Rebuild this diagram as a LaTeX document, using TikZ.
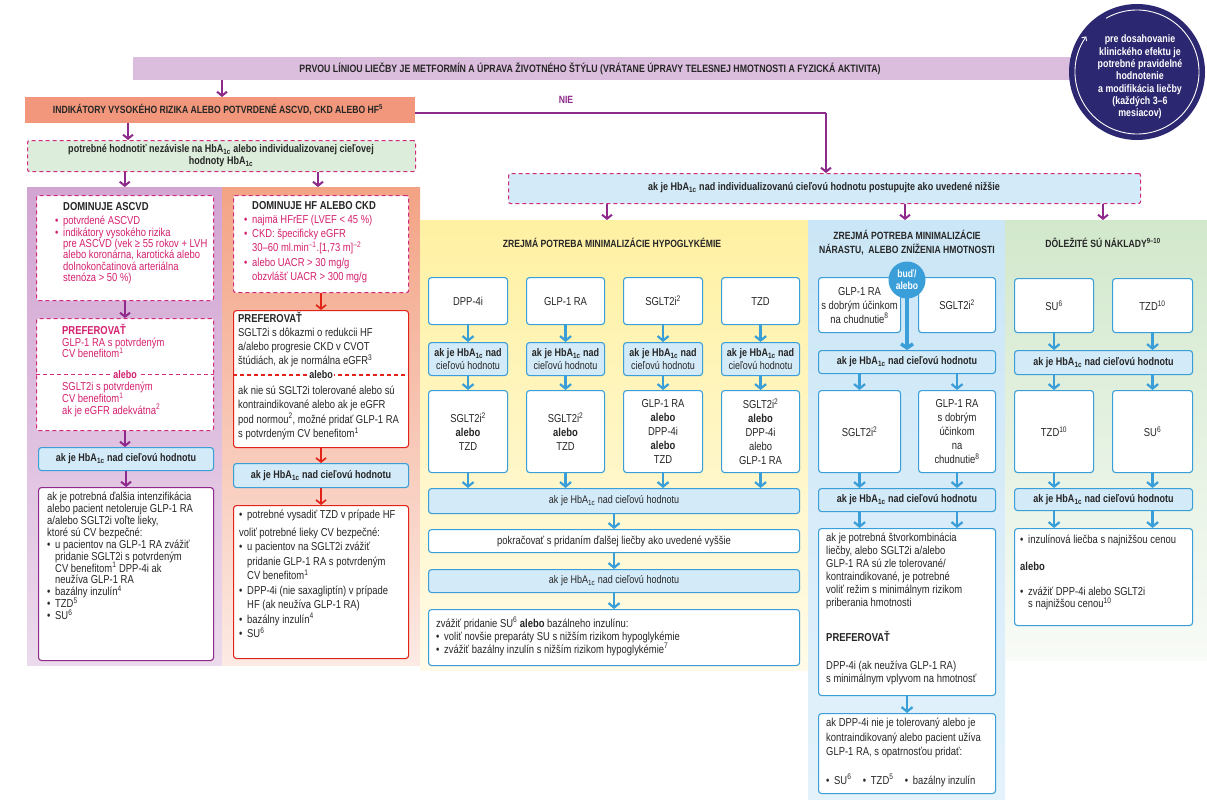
\documentclass[tikz,border=0pt]{standalone}
\usepackage{fontspec}
\setmainfont{Liberation Sans}[FakeStretch=0.82]
\usetikzlibrary{arrows.meta}
\definecolor{purp}{HTML}{8E2A8C}
\definecolor{mag}{HTML}{D02A7A}
\definecolor{magtxt}{HTML}{D4206E}
\definecolor{txt}{HTML}{262626}
\definecolor{bblue}{HTML}{3A9ED8}
\definecolor{lblue}{HTML}{D3EAF8}
\definecolor{rred}{HTML}{E2231A}
\definecolor{navy}{HTML}{2C2771}
\definecolor{topbar}{HTML}{DBBEDD}
\definecolor{orbar}{HTML}{F2977B}
\definecolor{lgreen}{HTML}{DCEEDB}
\definecolor{pAa}{HTML}{D2A4D2}
\definecolor{pAb}{HTML}{EBDAEC}
\definecolor{pBa}{HTML}{F3A385}
\definecolor{pBb}{HTML}{FCEAE4}
\definecolor{pYa}{HTML}{FFF1A2}
\definecolor{pYb}{HTML}{FFFBE8}
\definecolor{pWa}{HTML}{CBE6F6}
\definecolor{pWb}{HTML}{E4F2FB}
\definecolor{pCa}{HTML}{D2E8CC}
\definecolor{pCb}{HTML}{F8FBF7}
\newcommand{\hba}{HbA\textsubscript{1c}}
\newcommand{\sups}[1]{\textsuperscript{#1}}
\newcommand{\bul}{\makebox[8pt][l]{\textbullet}}
\newcommand{\ind}{\hspace*{8pt}}
\newcommand{\fs}[2]{\fontsize{#1}{#2}\selectfont\lineskiplimit=-20pt}
\newcommand{\mybox}[7]{\node[#2, anchor=north west, inner sep=0pt, minimum width={#5pt-#3pt}, minimum height={#6pt-#4pt}] (#1) at (#3,#4) {#7};}
\tikzset{
 panel/.style={draw=none},
 bx/.style={font=\fs{11.5}{14}, text=txt, align=center, line width=1.1pt, rounded corners=3pt},
 wbox/.style={bx, draw=bblue, fill=white},
 hbox/.style={bx, draw=bblue, fill=lblue, font=\fs{11}{13}},
 dbox/.style={bx, draw=mag, fill=white, dash pattern=on 4pt off 3pt, rounded corners=2pt},
 pbox/.style={bx, draw=purp, fill=white},
 rbox/.style={bx, draw=rred, fill=white},
 parr/.style={draw=purp, line width=2pt, -{Straight Barb[length=4pt,width=10pt]}},
 barr/.style={draw=bblue, line width=2.2pt, -{Straight Barb[length=4.5pt,width=11pt]}},
 rarr/.style={draw=rred, line width=1.7pt, -{Straight Barb[length=4pt,width=10pt]}},
 body/.style={font=\fs{11.5}{11.7}, text=txt, align=left, inner sep=0pt, anchor=north west},
 bld/.style={font=\bfseries\fs{11}{12}, text=txt, align=center, inner sep=0pt},
 ttl/.style={font=\bfseries\fs{10.5}{14}, text=txt, align=center, inner sep=0pt},
}
\begin{document}
\begin{tikzpicture}[x=1pt,y=-1pt]
\useasboundingbox (0,0) rectangle (1207,800);
\fill[white] (0,0) rectangle (1207,800);
% panels
\mybox{pA}{panel, top color=pAa, bottom color=pAb}{27}{187}{222}{665}{}
\mybox{pB}{panel, top color=pBa, bottom color=pBb}{222}{187}{420}{665}{}
\mybox{pY}{panel, top color=pYa, bottom color=pYb}{420}{220}{808}{670}{}
\mybox{pW}{panel, top color=pWa, bottom color=pWb}{808}{220}{1005}{800}{}
\mybox{pC}{panel, top color=pCa, bottom color=pCb}{1005}{220}{1207}{660}{}
% top bar and circle
\mybox{top}{fill=topbar}{133}{57}{1090}{80}{}
\node[ttl, font=\bfseries\fs{10.7}{11}] (toptxt) at (590,68.5) {PRVOU LÍNIOU LIEČBY JE METFORMÍN A ÚPRAVA ŽIVOTNÉHO ŠTÝLU (VRÁTANE ÚPRAVY TELESNEJ HMOTNOSTI A FYZICKÁ AKTIVITA)};
\node[circle, fill=navy, minimum size=136pt, inner sep=0pt] (circ) at (1137,72) {};
\draw[white, line width=0.9pt, -{Straight Barb[length=3pt,width=6pt]}] (circ.center) ++(-120:62) arc[start angle=-120, end angle=215, radius=62];
\node[font=\bfseries\fs{10.8}{12.3}, text=white, align=center, inner sep=0pt] (circtxt) at (1140,77) {pre dosahovanie\\klinického efektu je\\potrebné pravidelné\\hodnotenie\\a modifikácia liečby\\(každých 3–6\\mesiacov)};
% orange bar
\mybox{ora}{fill=orbar}{25}{97}{415}{123}{}
\node[ttl, font=\bfseries\fs{10.5}{11}] (oratxt) at (218,110) {INDIKÁTORY VYSOKÉHO RIZIKA ALEBO POTVRDENÉ ASCVD, CKD ALEBO HF\sups{5}};
\node[ttl, text=purp, font=\bfseries\fs{10.5}{11}] (nie) at (566,100) {NIE};
% green dashed
\mybox{grn}{dbox, fill=lgreen}{27}{140}{415}{171}{}
\node[bld] (grntxt) at (221,155.5) {potrebné hodnotiť nezávisle na \hba{} alebo individualizovanej cieľovej\\hodnoty \hba};
% blue dashed
\mybox{dsh}{dbox, fill=lblue}{508}{173}{1140}{203}{}
\node[bld] (dshtxt) at (824,188) {ak je \hba{} nad individualizovanú cieľovú hodnotu postupujte ako uvedené nižšie};
% coordinates
\coordinate (xA) at (222,0);
\coordinate (xB) at (128,0);
\coordinate (nie0) at (415,113);
\coordinate (nie1) at (826,113);
\coordinate (xY) at (607,0);
\coordinate (xW) at (905,0);
\coordinate (xC) at (1103,0);
\coordinate (xH) at (318,0);
\draw[parr] (top.south -| xA) -- (ora.north -| xA);
\draw[parr] (ora.south -| xB) -- (grn.north -| xB);
\draw[parr, -] (ora.east |- nie0) -- (nie1);
\draw[parr] (nie1) -- (nie1 |- dsh.north);
\draw[parr] (grn.south -| pA.north) -- (pA.north);
\draw[parr] (grn.south -| xH) -- (pB.north -| xH);
\draw[parr] (dsh.south -| xY) -- (pY.north -| xY);
\draw[parr] (dsh.south -| xW) -- (pW.north -| xW);
\draw[parr] (dsh.south -| xC) -- (pC.north -| xC);
% ===== left column
\mybox{asc}{dbox}{36}{195}{213}{300}{}
\node[body, text=magtxt, font=\fs{11.5}{11.4}] (asctxt) at (55,202) {\ind\textcolor{txt}{\bfseries DOMINUJE ASCVD}\\[3pt]\bul potvrdené ASCVD\\\bul indikátory vysokého rizika\\\ind pre ASCVD (vek ≥ 55 rokov + LVH\\\ind alebo koronárna, karotická alebo\\\ind dolnokončatinová arteriálna\\\ind stenóza > 50 \%)};
\mybox{apref}{dbox}{36}{318}{213}{430}{}
\draw[mag, line width=1.1pt, dash pattern=on 4pt off 3pt] (apref.west) -- (apref.east);
\node[bld, fill=white, inner sep=1.5pt, text=magtxt] (aal) at (apref.center) {alebo};
\node[body, text=magtxt, font=\fs{11.5}{11.5}] (apt1) at (62,324) {{\bfseries PREFEROVAŤ}\\GLP-1 RA s potvrdeným\\CV benefitom\sups{1}};
\node[body, text=magtxt, font=\fs{11.5}{11.8}] (apt2) at (62,382) {SGLT2i s potvrdeným\\CV benefitom\sups{1}\\ak je eGFR adekvátna\sups{2}};
\mybox{ahb}{hbox}{38}{447}{213}{470}{\bfseries ak je \hba{} nad cieľovú hodnotu}
\mybox{abot}{pbox}{38}{487}{213}{660}{}
\node[body, font=\fs{11.5}{11.9}] (abtxt) at (47,492) {ak je potrebná ďalšia intenzifikácia\\alebo pacient netoleruje GLP-1 RA\\a/alebo SGLT2i voľte lieky,\\ktoré sú CV bezpečné:\\\bul u pacientov na GLP-1 RA zvážiť\\\ind pridanie SGLT2i s potvrdeným\\\ind CV benefitom\sups{1} DPP-4i ak\\\ind neužíva GLP-1 RA\\\bul bazálny inzulín\sups{4}\\\bul TZD\sups{5}\\\bul SU\sups{6}};
\draw[parr] (asc.south) -- (asc.south |- apref.north);
\draw[parr] (apref.south) -- (apref.south |- ahb.north);
\draw[parr] (ahb.south) -- (ahb.south |- abot.north);
% ===== HF column
\mybox{hdom}{dbox}{233}{195}{408}{292}{}
\node[body, text=magtxt, font=\fs{11.5}{14.2}] (hdtxt) at (244,201) {\ind\textcolor{txt}{\bfseries DOMINUJE HF ALEBO CKD}\\\bul najmä HFrEF (LVEF < 45 \%)\\\bul CKD: špecificky eGFR\\\ind 30–60 ml.min\sups{–1}.[1,73 m]\sups{–2}\\\bul alebo UACR > 30 mg/g\\\ind obzvlášť UACR > 300 mg/g};
\coordinate (yS) at (0,375);
\mybox{hpref}{rbox}{233}{310}{408}{447}{}
\draw[rred, line width=1.1pt, dash pattern=on 4pt off 3pt] (hpref.west |- yS) -- (hpref.east |- yS);
\node[bld, fill=white, inner sep=1.5pt] (hal) at (hpref.center |- yS) {alebo};
\node[body, font=\fs{11.5}{14}] (hpt1) at (238,312) {{\bfseries PREFEROVAŤ}\\SGLT2i s dôkazmi o redukcii HF\\a/alebo progresie CKD v CVOT\\štúdiách, ak je normálna eGFR\sups{3}};
\node[body, font=\fs{11.5}{14.3}] (hpt2) at (238,386) {ak nie sú SGLT2i tolerované alebo sú\\kontraindikované alebo ak je eGFR\\pod normou\sups{2}, možné pridať GLP-1 RA\\s potvrdeným CV benefitom\sups{1}};
\mybox{hhb}{hbox}{233}{463}{408}{487}{\bfseries ak je \hba{} nad cieľovú hodnotu}
\mybox{hbot}{rbox}{233}{505}{408}{658}{}
\node[body, font=\fs{11.5}{14.5}] (hbtxt) at (239,510) {\bul potrebné vysadiť TZD v prípade HF\\[3pt]voliť potrebné lieky CV bezpečné:\\\bul u pacientov na SGLT2i zvážiť\\\ind pridanie GLP-1 RA s potvrdeným\\\ind CV benefitom\sups{1}\\\bul DPP-4i (nie saxagliptín) v prípade\\\ind HF (ak neužíva GLP-1 RA)\\\bul bazálny inzulín\sups{4}\\\bul SU\sups{6}};
\draw[rarr] (hdom.south) -- (hdom.south |- hpref.north);
\draw[rarr] (hpref.south) -- (hpref.south |- hhb.north);
\draw[rarr] (hhb.south) -- (hhb.south |- hbot.north);
% ===== hypoglycemia panel
\node[ttl] (yttl) at (612,243) {ZREJMÁ POTREBA MINIMALIZÁCIE HYPOGLYKÉMIE};
\mybox{ya}{wbox}{428}{277}{507}{324}{DPP-4i}
\mybox{yb}{wbox}{526}{277}{604}{324}{GLP-1 RA}
\mybox{yc}{wbox}{623}{277}{702}{324}{SGLT2i\sups{2}}
\mybox{yd}{wbox}{721}{277}{799}{324}{TZD}
\mybox{yha}{hbox}{428}{342}{507}{375}{\bfseries ak je \hba{} nad\\cieľovú hodnotu}
\mybox{yhb}{hbox}{526}{342}{604}{375}{\bfseries ak je \hba{} nad\\cieľovú hodnotu}
\mybox{yhc}{hbox}{623}{342}{702}{375}{\bfseries ak je \hba{} nad\\cieľovú hodnotu}
\mybox{yhd}{hbox}{721}{342}{799}{375}{\bfseries ak je \hba{} nad\\cieľovú hodnotu}
\mybox{yya}{wbox}{428}{390}{507}{472}{SGLT2i\sups{2}\\\textbf{alebo}\\TZD}
\mybox{yyb}{wbox}{526}{390}{604}{472}{SGLT2i\sups{2}\\\textbf{alebo}\\TZD}
\mybox{yyc}{wbox}{623}{390}{702}{472}{GLP-1 RA\\\textbf{alebo}\\DPP-4i\\\textbf{alebo}\\TZD}
\mybox{yyd}{wbox}{721}{390}{799}{472}{SGLT2i\sups{2}\\\textbf{alebo}\\DPP-4i\\alebo\\GLP-1 RA}
\mybox{yh1}{hbox}{428}{488}{799}{513}{ak je \hba{} nad cieľovú hodnotu}
\mybox{ypok}{wbox}{428}{529}{799}{552}{pokračovať s pridaním ďalšej liečby ako uvedené vyššie}
\mybox{yh2}{hbox}{428}{569}{799}{592}{ak je \hba{} nad cieľovú hodnotu}
\mybox{yzv}{wbox}{428}{609}{799}{665}{}
\node[body, font=\fs{11.5}{13}] (yzvtxt) at (436,617) {zvážiť pridanie SU\sups{6} \textbf{alebo} bazálneho inzulínu:\\\bul voliť novšie preparáty SU s nižším rizikom hypoglykémie\\\bul zvážiť bazálny inzulín s nižším rizikom hypoglykémie\sups{7}};
\foreach \c in {a,b,c,d}{
 \draw[barr] (y\c.south) -- (y\c.south |- yh\c.north);
 \draw[barr] (yh\c.south) -- (yh\c.south |- yy\c.north);
 \draw[barr] (yy\c.south) -- (yy\c.south |- yh1.north);
}
\draw[barr] (yh1.south) -- (yh1.south |- ypok.north);
\draw[barr] (ypok.south) -- (ypok.south |- yh2.north);
\draw[barr] (yh2.south) -- (yh2.south |- yzv.north);
% ===== weight panel
\node[ttl] (wttl) at (907,242.5) {ZREJMÁ POTREBA MINIMALIZÁCIE\\NÁRASTU,\ \ ALEBO ZNÍŽENIA HMOTNOSTI};
\mybox{wa}{wbox}{818}{277}{900}{332}{GLP-1 RA\\s dobrým účinkom\\na chudnutie\sups{8}}
\mybox{wb}{wbox}{918}{277}{995}{332}{SGLT2i\sups{2}}
\mybox{wh1}{hbox}{818}{350}{995}{373}{\bfseries ak je \hba{} nad cieľovú hodnotu}
\coordinate (budc) at (907,280);
\draw[barr, line width=3.5pt, -{Straight Barb[length=4pt,width=12pt]}] (budc) -- (budc |- wh1.north);
\node[circle, fill=bblue, minimum size=37pt, inner sep=0pt, text=white, align=center, font=\bfseries\fs{10.5}{12}] (bud) at (budc) {buď/\\alebo};
\mybox{wc}{wbox}{818}{390}{900}{472}{SGLT2i\sups{2}}
\mybox{wd}{wbox}{918}{390}{995}{472}{GLP-1 RA\\s dobrým\\účinkom\\na\\chudnutie\sups{8}}
\mybox{wh2}{hbox}{818}{488}{995}{511}{\bfseries ak je \hba{} nad cieľovú hodnotu}
\mybox{we}{wbox}{818}{528}{995}{695}{}
\node[body, font=\fs{11.5}{13}] (wetxt) at (826,533) {ak je potrebná štvorkombinácia\\liečby, alebo SGLT2i a/alebo\\GLP-1 RA sú zle tolerované/\\kontraindikované, je potrebné\\voliť režim s minimálnym rizikom\\priberania hmotnosti\\[22pt]\textbf{PREFEROVAŤ}\\[15pt]DPP-4i (ak neužíva GLP-1 RA)\\s minimálnym vplyvom na hmotnosť};
\mybox{wf}{wbox}{818}{713}{995}{793}{}
\node[body, font=\fs{11.5}{14.5}] (wftxt) at (826,718) {ak DPP-4i nie je tolerovaný alebo je\\kontraindikovaný alebo pacient užíva\\GLP-1 RA, s opatrnosťou pridať:\\[14pt]\bul SU\sups{6}\quad\bul TZD\sups{5}\quad\bul bazálny inzulín};
\draw[barr] (wh1.south -| wc.north) -- (wc.north);
\draw[barr] (wh1.south -| wd.north) -- (wd.north);
\draw[barr] (wc.south) -- (wc.south |- wh2.north);
\draw[barr] (wd.south) -- (wd.south |- wh2.north);
\draw[barr] (wh2.south -| wc.south) -- (we.north -| wc.south);
\draw[barr] (wh2.south -| wd.south) -- (we.north -| wd.south);
\draw[barr] (we.south) -- (we.south |- wf.north);
% ===== cost panel
\node[ttl] (cttl) at (1103,243) {DÔLEŽITÉ SÚ NÁKLADY\sups{9–10}};
\mybox{ca}{wbox}{1014}{278}{1093}{332}{SU\sups{6}}
\mybox{cb}{wbox}{1112}{278}{1192}{332}{TZD\sups{10}}
\mybox{ch1}{hbox}{1014}{350}{1192}{374}{\bfseries ak je \hba{} nad cieľovú hodnotu}
\mybox{cc}{wbox}{1014}{390}{1093}{472}{TZD\sups{10}}
\mybox{cd}{wbox}{1112}{390}{1192}{472}{SU\sups{6}}
\mybox{ch2}{hbox}{1014}{488}{1192}{510}{\bfseries ak je \hba{} nad cieľovú hodnotu}
\mybox{ce}{wbox}{1014}{528}{1192}{625}{}
\node[body, font=\fs{11.5}{12}] (cetxt) at (1020,535) {\bul inzulínová liečba s najnižšou cenou\\[15pt]\textbf{alebo}\\[13pt]\bul zvážiť DPP-4i alebo SGLT2i\\\ind s najnižšou cenou\sups{10}};
\draw[barr] (ca.south) -- (ca.south |- ch1.north);
\draw[barr] (cb.south) -- (cb.south |- ch1.north);
\draw[barr] (ch1.south -| cc.north) -- (cc.north);
\draw[barr] (ch1.south -| cd.north) -- (cd.north);
\draw[barr] (cc.south) -- (cc.south |- ch2.north);
\draw[barr] (cd.south) -- (cd.south |- ch2.north);
\draw[barr] (ch2.south -| cc.south) -- (ce.north -| cc.south);
\draw[barr] (ch2.south -| cd.south) -- (ce.north -| cd.south);
\end{tikzpicture}
\end{document}
